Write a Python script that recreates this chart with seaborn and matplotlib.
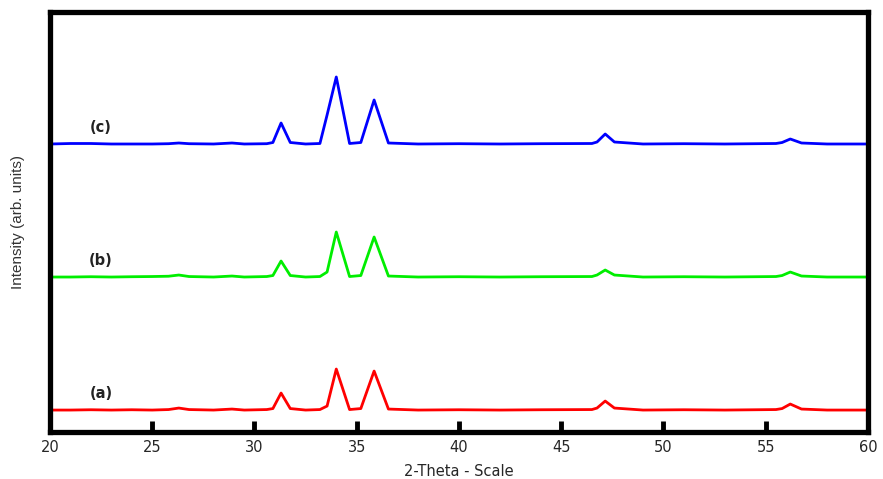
import numpy as np
import pandas as pd
import matplotlib
matplotlib.use("Agg")
import matplotlib.pyplot as plt
import seaborn as sns

# -----------------------------
# Data
# -----------------------------
two_theta = [20.0, 21.0, 22.0, 23.0, 24.0, 25.0, 25.8, 26.3, 26.8, 28.0,
             28.9, 29.5, 30.6, 30.9, 31.3, 31.75, 32.5, 33.2, 33.55, 34.0,
             34.65, 35.2, 35.85, 36.55, 38.0, 40.0, 42.0, 44.0, 46.5, 46.75,
             47.15, 47.6, 49.0, 51.0, 53.0, 55.5, 55.8, 56.2, 56.75, 58.0, 60.0]

intensity_a = [0, 0, 0.3, 0, 0.3, 0, 0.5, 2, 0.5, 0,
               1, 0, 0.5, 1.5, 17, 1.5, 0, 0.5, 4, 41,
               0.5, 1.5, 39, 1, 0, 0.3, 0, 0.3, 0.5, 2,
               9, 2, 0, 0.3, 0, 0.5, 1.5, 6, 1, 0, 0]

intensity_b = [0, 0, 0.3, 0, 0.3, 0.5, 0.8, 2, 0.5, 0,
               1, 0, 0.5, 1.5, 16, 1.5, 0, 0.5, 5, 45,
               0.5, 1.5, 40, 1, 0, 0.3, 0, 0.3, 0.5, 2,
               7, 2, 0, 0.3, 0, 0.5, 1.5, 5, 1, 0, 0]

intensity_c = [0, 0.5, 0.5, 0, 0, 0, 0.3, 1, 0.3, 0,
               1, 0, 0.3, 1.5, 21, 1.5, 0, 0.5, 29, 67,
               0.5, 1.5, 44, 1, 0, 0.3, 0, 0.3, 0.5, 2,
               10, 2, 0, 0.3, 0, 0.5, 1.5, 5, 1, 0, 0]

samples = ["(a)", "(b)", "(c)"]
offsets = [22, 155, 288]
colors = ["#ff0000", "#00ee00", "#0000ff"]

# -----------------------------
# Build long table
# -----------------------------
frames = []
for name, vals, off in zip(samples, [intensity_a, intensity_b, intensity_c], offsets):
    frames.append(pd.DataFrame({
        "two_theta": two_theta,
        "intensity": np.array(vals) + off,
        "sample": name,
    }))
df = pd.concat(frames, ignore_index=True)

# -----------------------------
# Plot
# -----------------------------
sns.set_style("white")
plt.rcParams["font.family"] = ["DejaVu Sans"]

fig = plt.figure(figsize=(8.83, 4.79), dpi=100)
ax = fig.add_axes([0.0566, 0.098, 0.9264, 0.877])

sns.lineplot(data=df, x="two_theta", y="intensity", hue="sample",
             palette=colors, linewidth=2.0, legend=False, ax=ax)

for name, off in zip(samples, offsets):
    ax.text(22.5, off + 9, name, fontsize=10.5, fontweight="bold",
            ha="center", va="bottom", color="#222222")

ax.set_xlim(20, 60)
ax.set_ylim(0, 420)
ax.set_xticks(range(20, 61, 5))
ax.set_yticks([])
ax.tick_params(axis="x", bottom=True, direction="in", length=8, width=3.5,
               labelsize=10.5, pad=6, color="black")
for sp in ax.spines.values():
    sp.set_linewidth(3.8)
    sp.set_color("black")

ax.set_xlabel("2-Theta - Scale", fontsize=10.5, labelpad=6)
ax.set_ylabel("Intensity (arb. units)", fontsize=11, family="Liberation Sans",
              color="#333333", labelpad=18)

plt.savefig("out.png", dpi=100)
